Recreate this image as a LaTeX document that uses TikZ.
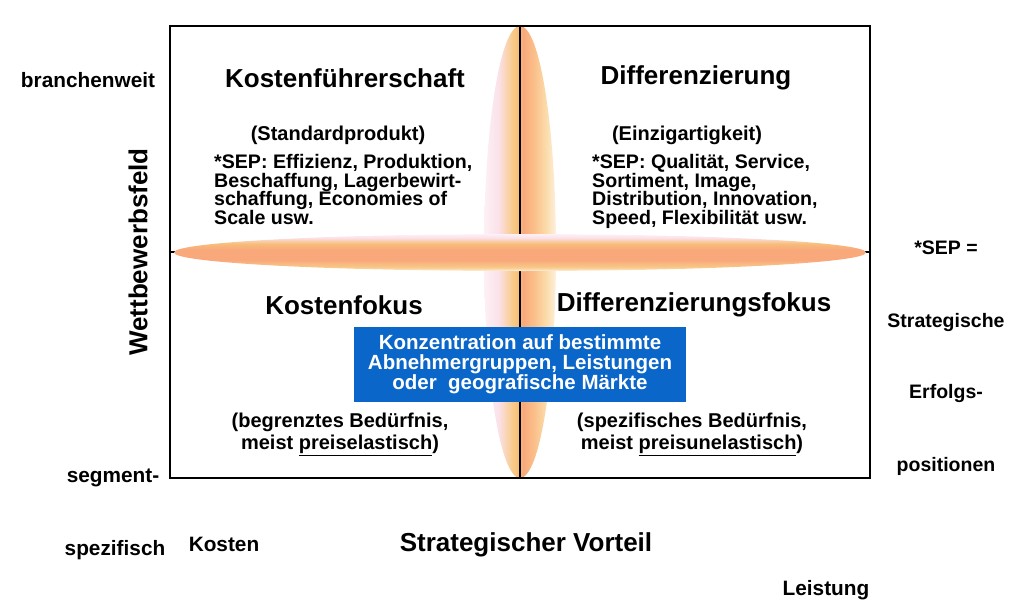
\documentclass[tikz,border=0pt]{standalone}
\usepackage{fontspec}
\setmainfont{Liberation Sans}
\usetikzlibrary{shapes.geometric}
\definecolor{pkA}{HTML}{FDF1F5}
\definecolor{pkB}{HTML}{FBE1EA}
\definecolor{orA}{HTML}{F8CA88}
\definecolor{orB}{HTML}{F7BE78}
\definecolor{slA}{HTML}{F9A87B}
\definecolor{slB}{HTML}{FAC08A}
\definecolor{crA}{HTML}{FBDCAA}
\definecolor{crB}{HTML}{FDF0DE}
\definecolor{boxblue}{HTML}{0B66C9}
\pgfdeclarehorizontalshading{vsh}{100bp}{color(0bp)=(pkA); color(25bp)=(pkA); color(35bp)=(pkB); color(45bp)=(orA); color(49bp)=(orB); color(52bp)=(slA); color(60bp)=(slB); color(68bp)=(crA); color(75bp)=(crB); color(100bp)=(crB)}
\pgfdeclareverticalshading{hsh}{100bp}{color(0bp)=(crB); color(25bp)=(crB); color(30bp)=(orA); color(40bp)=(slA); color(54bp)=(slA); color(62bp)=(orB); color(70bp)=(pkB); color(75bp)=(pkA); color(100bp)=(pkA)}
\tikzset{
  lbl/.style={font=\bfseries\fontsize{20.8}{20}\selectfont, inner sep=0pt, text=black},
  ttl/.style={font=\bfseries\fontsize{26}{26}\selectfont, inner sep=0pt, text=black},
  body/.style={font=\bfseries\fontsize{19.6}{18.7}\selectfont, inner sep=0pt, text=black, align=left},
  paren/.style={font=\bfseries\fontsize{20}{22}\selectfont, inner sep=0pt, text=black, align=center},
  side/.style={font=\bfseries\fontsize{19.5}{19.5}\selectfont, inner sep=0pt, text=black},
  frame/.style={draw=black, line width=2.2pt, minimum width=700pt, minimum height=452pt, inner sep=0pt},
  divider/.style={draw=black, line width=2pt},
  vell/.style={ellipse, shade, shading=vsh, minimum width=72pt, minimum height=452pt, inner sep=0pt},
  hell/.style={ellipse, shade, shading=hsh, minimum width=692pt, minimum height=37pt, inner sep=0pt},
  bluebox/.style={fill=boxblue, text=white, font=\bfseries\fontsize{20.5}{20}\selectfont, align=center, minimum width=332pt, minimum height=75pt, inner sep=0pt}
}
\begin{document}
\begin{tikzpicture}[x=1pt,y=-1pt]
\useasboundingbox (0,0) rectangle (1015,613);
\node[vell] (ve) at (520,252) {};
\node[frame] (box) at (520,252) {};
\draw[divider] (box.north) -- (box.south);
\draw[divider] (box.west) -- (box.east);
\node[hell] (he) at (520,252.5) {};
% left labels
\node[lbl] (bw) at (88,80) {branchenweit};
\node[ttl, rotate=90] (wf) at (138,252) {Wettbewerbsfeld};
\node[lbl] (sg) at (113,478) {segment-};
\node[lbl] (sp) at (115,550) {spezifisch};
\node[lbl] (ko) at (224,544) {Kosten};
\node[ttl] (sv) at (526,545) {Strategischer Vorteil};
\node[lbl] (le) at (826,590) {Leistung};
% right labels
\node[side] (r1) at (946,248) {*SEP =};
\node[side] (r2) at (946,322) {Strategische};
\node[side] (r3) at (946,393) {Erfolgs-};
\node[side] (r4) at (946,466) {positionen};
% quadrants
\node[ttl] (kf) at (345,78) {Kostenführerschaft};
\node[ttl] (df) at (696,78) {Differenzierung};
\node[paren] (stp) at (338,135) {(Standardprodukt)};
\node[paren] (ein) at (687,135) {(Einzigartigkeit)};
\node[body, anchor=north west] (sepl) at (214,154) {*SEP: Effizienz, Produktion,\\Beschaffung, Lagerbewirt-\\schaffung, Economies of\\Scale usw.};
\node[body, anchor=north west] (sepr) at (592,154) {*SEP: Qualität, Service,\\Sortiment, Image,\\Distribution, Innovation,\\Speed, Flexibilität usw.};
\node[ttl] (kfo) at (344,305) {Kostenfokus};
\node[ttl] (dfo) at (694,305) {Differenzierungsfokus};
\node[bluebox] (kz) at (520,364.5) {Konzentration auf bestimmte\\Abnehmergruppen, Leistungen\\oder\ \ geografische Märkte};
\node[paren] (bb) at (340,434) {(begrenztes Bedürfnis,\\meist \underline{preiselastisch})};
\node[paren] (sb) at (692,434) {(spezifisches Bedürfnis,\\meist \underline{preisunelastisch})};
\end{tikzpicture}
\end{document}
